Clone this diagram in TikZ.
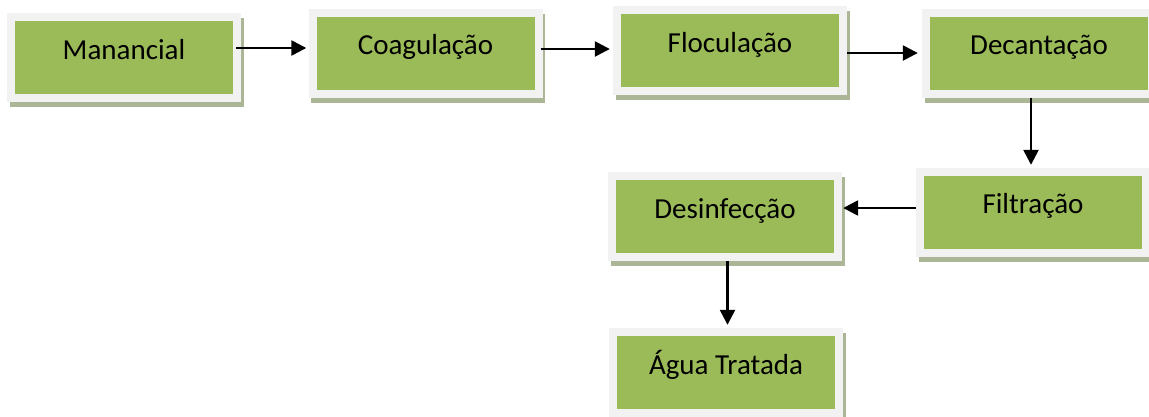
\documentclass[tikz,border=0pt]{standalone}
\usepackage{fontspec}
\setmainfont{Carlito}
\usetikzlibrary{arrows.meta, shadows}
\definecolor{stagegreen}{HTML}{9BBB59}
\definecolor{stageframe}{HTML}{F2F2F2}
\definecolor{stageshade}{HTML}{AAB696}

\begin{document}
\begin{tikzpicture}[x=1pt, y=-1pt,
  stage/.style={fill=stageframe, minimum width=234pt, minimum height=89pt, inner sep=0pt,
    font=\fontsize{29}{34}\selectfont, text height=20pt, text depth=17pt,
    drop shadow={shadow xshift=2.5pt, shadow yshift=-5pt, fill=stageshade, opacity=1},
    path picture={\fill[stagegreen] ([shift={(8pt,-8pt)}]path picture bounding box.north west)
      rectangle ([shift={(-8pt,8pt)}]path picture bounding box.south east);}},
  flow/.style={line width=2.5pt, -{Triangle[length=15pt, width=15pt]}}]
\useasboundingbox (0,0) rectangle (1149,416);

\node[stage] (man) at (124,57.5) {Manancial};
\node[stage] (coag) at (425.5,53) {Coagulação};
\node[stage] (floc) at (730,50.5) {Floculação};
\node[stage] (dec) at (1039,53) {Decantação};
\node[stage] (filt) at (1033,212) {Filtração};
\node[stage] (des) at (725,216.5) {Desinfecção};
\node[stage] (agua) at (726,372.5) {Água Tratada};

\draw[flow] ([shift={(-5pt,9.5pt)}]man.east) -- ([shift={(-2pt,5pt)}]coag.west);
\draw[flow] ([shift={(-2pt,4pt)}]coag.east) -- ([shift={(-3pt,1.5pt)}]floc.west);
\draw[flow] ([shift={(0pt,-2.5pt)}]floc.east) -- ([shift={(-4pt,0pt)}]dec.west);
\draw[flow] ([shift={(-8pt,0pt)}]dec.south) -- ([shift={(-2pt,2.5pt)}]filt.north);
\draw[flow] ([shift={(0pt,4pt)}]filt.west) -- ([shift={(1pt,8.5pt)}]des.east);
\draw[flow] ([shift={(2.5pt,0pt)}]des.south) -- ([shift={(1.5pt,3pt)}]agua.north);
\end{tikzpicture}
\end{document}
